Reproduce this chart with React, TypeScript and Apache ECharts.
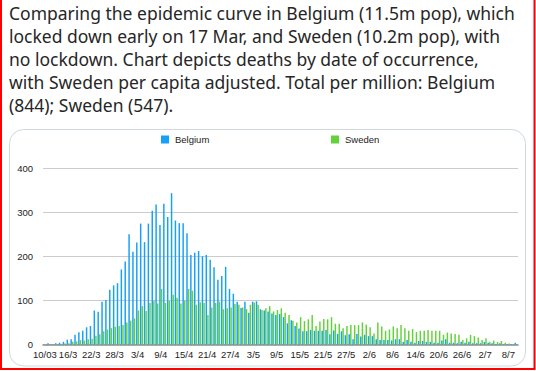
import React, { useEffect, useRef } from "react";
import * as echarts from "echarts";

const categories = [
  "10/03","11/3","12/3","13/3","14/3","15/3","16/3","17/3","18/3","19/3","20/3","21/3","22/3","23/3","24/3","25/3","26/3","27/3","28/3","29/3","30/3","31/3",
  "1/4","2/4","3/4","4/4","5/4","6/4","7/4","8/4","9/4","10/4","11/4","12/4","13/4","14/4","15/4","16/4","17/4","18/4","19/4","20/4","21/4","22/4","23/4","24/4","25/4","26/4","27/4","28/4","29/4","30/4",
  "1/5","2/5","3/5","4/5","5/5","6/5","7/5","8/5","9/5","10/5","11/5","12/5","13/5","14/5","15/5","16/5","17/5","18/5","19/5","20/5","21/5","22/5","23/5","24/5","25/5","26/5","27/5","28/5","29/5","30/5","31/5",
  "1/6","2/6","3/6","4/6","5/6","6/6","7/6","8/6","9/6","10/6","11/6","12/6","13/6","14/6","15/6","16/6","17/6","18/6","19/6","20/6","21/6","22/6","23/6","24/6","25/6","26/6","27/6","28/6","29/6","30/6",
  "1/7","2/7","3/7","4/7","5/7","6/7","7/7","8/7","9/7","10/7",
];

const belgium = [
  0, 3, 0, 3, 4, 6, 11, 12, 22, 28,
  31, 39, 42, 77, 74, 97, 101, 124, 134, 139,
  170, 188, 250, 210, 231, 274, 232, 274, 303, 317,
  271, 319, 289, 343, 281, 275, 275, 252, 203, 208,
  212, 200, 203, 192, 175, 147, 155, 176, 126, 115,
  97, 83, 97, 72, 97, 98, 80, 77, 75, 70,
  67, 69, 62, 48, 55, 42, 36, 30, 30, 33,
  31, 31, 31, 33, 23, 32, 24, 30, 21, 23,
  12, 24, 18, 22, 19, 19, 12, 10, 10, 10,
  9, 12, 12, 6, 10, 6, 4, 8, 8, 6,
  6, 4, 4, 9, 12, 4, 4, 3, 6, 4,
  6, 3, 3, 3, 6, 4, 3, 1, 3, 1,
  1, 1, 4,
];

const sweden = [
  0, 0, 0, 1, 1, 2, 3, 6, 7, 10,
  9, 12, 13, 20, 23, 30, 34, 37, 40, 42,
  44, 50, 54, 59, 77, 87, 76, 94, 99, 93,
  126, 94, 99, 113, 106, 93, 100, 126, 122, 90,
  96, 94, 67, 84, 94, 97, 80, 82, 84, 92,
  90, 84, 80, 90, 95, 90, 78, 82, 87, 75,
  78, 82, 72, 67, 54, 50, 62, 53, 57, 67,
  42, 52, 58, 57, 62, 47, 47, 37, 42, 44,
  44, 44, 50, 45, 39, 25, 50, 41, 31, 34,
  41, 37, 44, 37, 31, 35, 28, 31, 31, 33,
  31, 31, 31, 22, 27, 25, 24, 22, 10, 14,
  22, 19, 16, 10, 14, 6, 9, 6, 8, 4,
  2, 1, 1,
];

const titleLines = [
  "Comparing the epidemic curve in Belgium (11.5m pop), which",
  "locked down early on 17 Mar, and Sweden (10.2m pop), with",
  "no lockdown. Chart depicts deaths by date of occurrence,",
  "with Sweden per capita adjusted. Total per million: Belgium",
  "(844); Sweden (547).",
];

const BLUE = "#16a0f8";
const GREEN = "#63d23a";
const LABEL_FONT = "Liberation Sans";
const LABEL_COLOR = "#222";

export default function App() {
  const ref = useRef<HTMLDivElement>(null);
  useEffect(() => {
    document.body.style.margin = "0";
    const chart = echarts.init(ref.current!, null, { renderer: "svg" });
    const legendBase = {
      orient: "horizontal",
      padding: 0,
      itemWidth: 8,
      itemHeight: 8,
      itemGap: 0,
      icon: "rect",
      textStyle: { fontSize: 9.5, color: LABEL_COLOR, fontFamily: LABEL_FONT, padding: [0, 0, 0, 1] },
      top: 134.5,
    };
    chart.setOption({
      animation: false,
      backgroundColor: "#ffffff",
      graphic: [
        {
          type: "text",
          x: 9,
          y: 1,
          style: {
            text: titleLines.join("\n"),
            fontSize: 17.5,
            fontFamily: "Noto Sans",
            fill: "#262626",
            lineHeight: 23,
            verticalAlign: "top",
          },
        },
        {
          type: "rect",
          shape: { x: 9.5, y: 129.5, width: 516, height: 236.5, r: 14 },
          style: { fill: "none", stroke: "#cfd9de", lineWidth: 1 },
          z: -1,
        },
        {
          type: "polyline",
          shape: { points: [[1, 0], [1, 369], [534.5, 369], [534.5, 0]] },
          style: { stroke: "#ff0000", lineWidth: 2, fill: "none" },
        },
      ],
      legend: [
        { ...legendBase, left: 161, data: ["Belgium"] },
        { ...legendBase, left: 331, data: ["Sweden"] },
      ],
      grid: { left: 43, right: 18, top: 168, bottom: 26.5 },
      xAxis: {
        type: "category",
        data: categories,
        axisTick: { show: false },
        axisLine: { lineStyle: { color: "#8c8c8c", width: 1.5 } },
        axisLabel: {
          interval: 5,
          fontSize: 9.5,
          color: LABEL_COLOR,
          fontFamily: LABEL_FONT,
          margin: 5,
        },
      },
      yAxis: {
        type: "value",
        min: 0,
        max: 400,
        interval: 100,
        axisLine: { show: false },
        axisTick: { show: false },
        axisLabel: { fontSize: 9.5, color: LABEL_COLOR, fontFamily: LABEL_FONT, margin: 10 },
        splitLine: { lineStyle: { color: "#cccccc", width: 1 } },
      },
      series: [
        {
          name: "Belgium",
          type: "bar",
          data: belgium,
          itemStyle: { color: BLUE },
          barCategoryGap: "20%",
          barGap: "10%",
        },
        {
          name: "Sweden",
          type: "bar",
          data: sweden,
          itemStyle: { color: GREEN },
        },
      ],
    });
    return () => chart.dispose();
  }, []);
  return (
    <div
      ref={ref}
      style={{ position: "fixed", left: 0, top: 0, width: 536, height: 371 }}
    />
  );
}
